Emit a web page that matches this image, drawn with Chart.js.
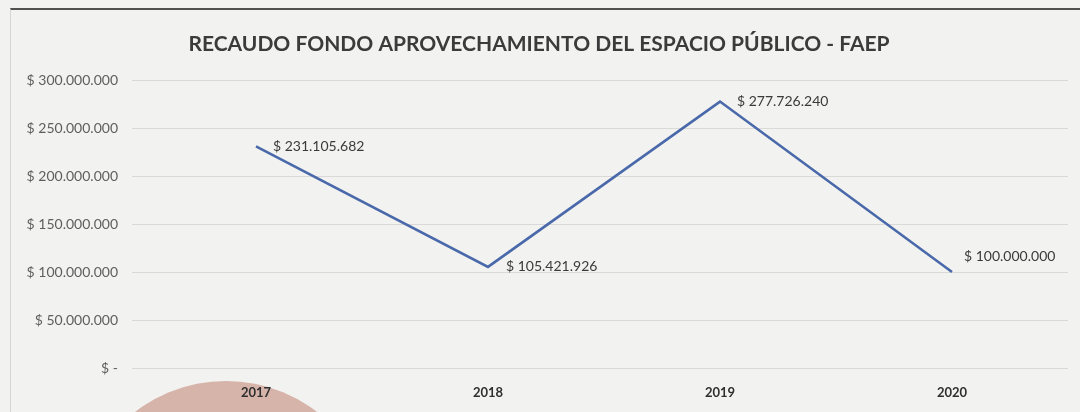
<!DOCTYPE html>
<html lang="es">
<head>
<meta charset="utf-8">
<title>Recaudo FAEP</title>
<script src="https://cdn.jsdelivr.net/npm/chart.js@4/dist/chart.umd.min.js"></script>
<style>
  html, body { margin: 0; padding: 0; background: #f2f2f0; }
  .wrap { position: relative; width: 1080px; height: 412px; overflow: hidden; }
  .wrap canvas { position: absolute; left: 0; top: 0; }
  .frame {
    position: absolute; left: 10px; top: 8px; right: 0; bottom: 0;
    border-top: 2px solid #505050; border-left: 1px solid #d6d6d4;
    pointer-events: none;
  }
</style>
</head>
<body>
<div class="wrap">
  <canvas id="chart" width="1080" height="412"></canvas>
  <div class="frame"></div>
</div>
<script>
const years = ['2017', '2018', '2019', '2020'];
const recaudo = [231105682, 105421926, 277726240, 100000000];
const yTicks = [0, 50000000, 100000000, 150000000, 200000000, 250000000, 300000000];

// where each value label sits relative to its point (Excel moved the last one up)
const labelOffsets = [[17, 0], [18, 0], [17, 0], [12, -16]];

function pesos(v) {
  if (!v) return '$ -';
  return '$ ' + String(v).replace(/\B(?=(\d{3})+(?!\d))/g, '.');
}

const stampPlugin = {
  id: 'stamp',
  beforeDraw(chart) {
    const ctx = chart.ctx;
    ctx.save();
    ctx.fillStyle = '#d6b4aa';
    ctx.beginPath();
    ctx.arc(226, 530, 149, 0, Math.PI * 2);
    ctx.fill();
    ctx.restore();
  },
};

const valueLabels = {
  id: 'valueLabels',
  afterDatasetsDraw(chart) {
    const ctx = chart.ctx;
    const meta = chart.getDatasetMeta(0);
    ctx.save();
    ctx.font = '14px Lato';
    ctx.fillStyle = '#3a3a3a';
    ctx.textAlign = 'left';
    ctx.textBaseline = 'middle';
    meta.data.forEach((pt, i) => {
      const [dx, dy] = labelOffsets[i];
      ctx.fillText(pesos(recaudo[i]), pt.x + dx, pt.y + dy);
    });
    ctx.restore();
  },
};

new Chart(document.getElementById('chart'), {
  type: 'line',
  data: {
    labels: years,
    datasets: [{
      label: 'Recaudo',
      data: recaudo,
      borderColor: '#4a69aa',
      borderWidth: 2.6,
      pointRadius: 0,
      tension: 0,
    }],
  },
  options: {
    responsive: false,
    animation: false,
    layout: { padding: { left: 10, right: 12, top: 0, bottom: 0 } },
    plugins: {
      legend: { display: false },
      tooltip: { enabled: false },
      title: {
        display: true,
        text: 'RECAUDO FONDO APROVECHAMIENTO DEL ESPACIO PÚBLICO - FAEP',
        color: '#3b3b3b',
        font: { family: 'Lato', size: 21, weight: 'bold', lineHeight: 1.2 },
        padding: { top: 32, bottom: 23 },
      },
    },
    scales: {
      x: {
        offset: true,
        grid: { display: false, drawTicks: false },
        border: { display: false },
        ticks: {
          color: '#2f2f2f',
          padding: 17,
          font: { family: 'Lato', size: 13, weight: 'bold' },
        },
        afterFit: s => { s.height = 44; },
      },
      y: {
        min: 0,
        max: 300000000,
        afterBuildTicks: s => { s.ticks = yTicks.map(value => ({ value })); },
        grid: { color: '#d9d9d7', lineWidth: 1, drawTicks: true, tickLength: 8, tickColor: '#d9d9d7' },
        border: { display: false },
        ticks: {
          color: '#5e5e5e',
          padding: 14,
          font: { family: 'Lato', size: 14 },
          callback: v => pesos(v),
        },
        afterFit: s => { s.width = 130; },
      },
    },
  },
  plugins: [stampPlugin, valueLabels],
});
</script>
</body>
</html>
